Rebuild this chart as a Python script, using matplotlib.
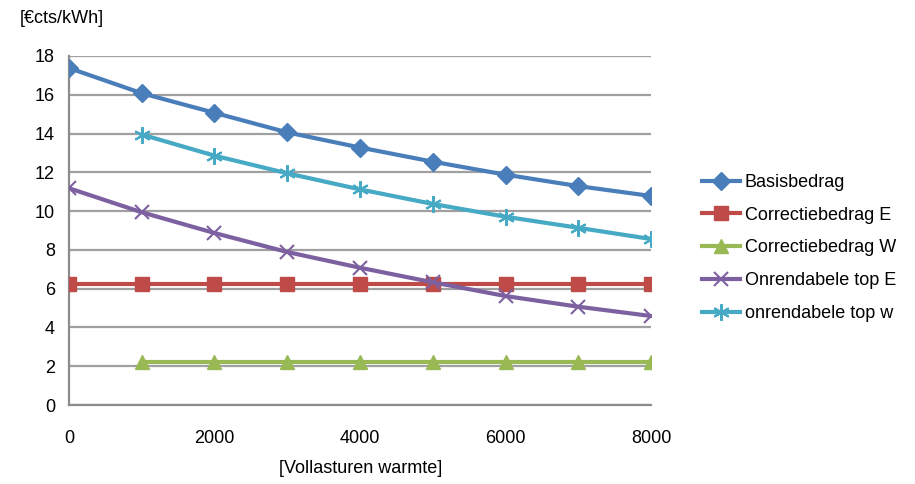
import matplotlib
matplotlib.use("Agg")
import matplotlib.pyplot as plt

plt.rcParams['font.family'] = ['Liberation Sans', 'DejaVu Sans']

# Vollasturen warmte
hours_full = [0, 1000, 2000, 3000, 4000, 5000, 6000, 7000, 8000]
hours_from_1000 = [1000, 2000, 3000, 4000, 5000, 6000, 7000, 8000]

# Bedragen in €cts/kWh
basisbedrag = [17.38, 16.08, 15.07, 14.06, 13.28, 12.55, 11.88, 11.29, 10.78]
correctie_e = [6.22, 6.22, 6.22, 6.22, 6.22, 6.22, 6.22, 6.22, 6.22]
correctie_w = [2.23, 2.23, 2.23, 2.23, 2.23, 2.23, 2.23, 2.23]
onrendabel_e = [11.18, 9.94, 8.87, 7.89, 7.08, 6.33, 5.62, 5.07, 4.59]
onrendabel_w = [13.95, 12.86, 11.95, 11.12, 10.37, 9.71, 9.14, 8.56]

series_names = ["Basisbedrag", "Correctiebedrag E", "Correctiebedrag W",
                "Onrendabele top E", "onrendabele top w"]
x_ticks = [0, 2000, 4000, 6000, 8000]
y_ticks = [0, 2, 4, 6, 8, 10, 12, 14, 16, 18]

fig = plt.figure(figsize=(9.15, 4.84), dpi=100)
ax = fig.add_axes([0.0754, 0.1632, 0.6361, 0.7211])

lw = 3.0
ax.plot(hours_full, basisbedrag, color='#4A7EBB', lw=lw, marker='D', ms=9,
        label=series_names[0], zorder=3)
ax.plot(hours_full, correctie_e, color='#BE4B48', lw=lw, marker='s', ms=10,
        label=series_names[1], zorder=3)
ax.plot(hours_from_1000, correctie_w, color='#98B954', lw=lw, marker='^', ms=10,
        label=series_names[2], zorder=3)
ax.plot(hours_full, onrendabel_e, color='#7D60A0', lw=lw, marker='x', ms=10,
        mew=1.5, label=series_names[3], zorder=3)
ax.plot(hours_from_1000, onrendabel_w, color='#46AAC5', lw=lw, marker=(6, 2, 0),
        ms=12, mew=1.5, label=series_names[4], zorder=3)

ax.set_xlim(0, 8000)
ax.set_ylim(0, 18)
ax.set_xticks(x_ticks)
ax.set_yticks(y_ticks)
ax.tick_params(axis='both', length=0, labelsize=13, colors='black')
ax.tick_params(axis='x', pad=18)
ax.tick_params(axis='y', pad=10)
ax.grid(axis='y', color='#A0A0A0', lw=1.6)
ax.set_axisbelow(True)
for side in ('top', 'right'):
    ax.spines[side].set_visible(False)
for side in ('left', 'bottom'):
    ax.spines[side].set_color('#8C8C8C')
    ax.spines[side].set_linewidth(1.6)

fig.text(0.022, 0.962, "[€cts/kWh]", fontsize=13, ha='left', va='center')
fig.text(0.394, 0.033, "[Vollasturen warmte]", fontsize=13, ha='center', va='center')

leg = ax.legend(loc='center left', bbox_to_anchor=(1.059, 0.45), frameon=False,
                fontsize=13, numpoints=1, handlelength=2.1, handletextpad=0.3,
                labelspacing=0.87)

fig.savefig("out.png", dpi=100)
